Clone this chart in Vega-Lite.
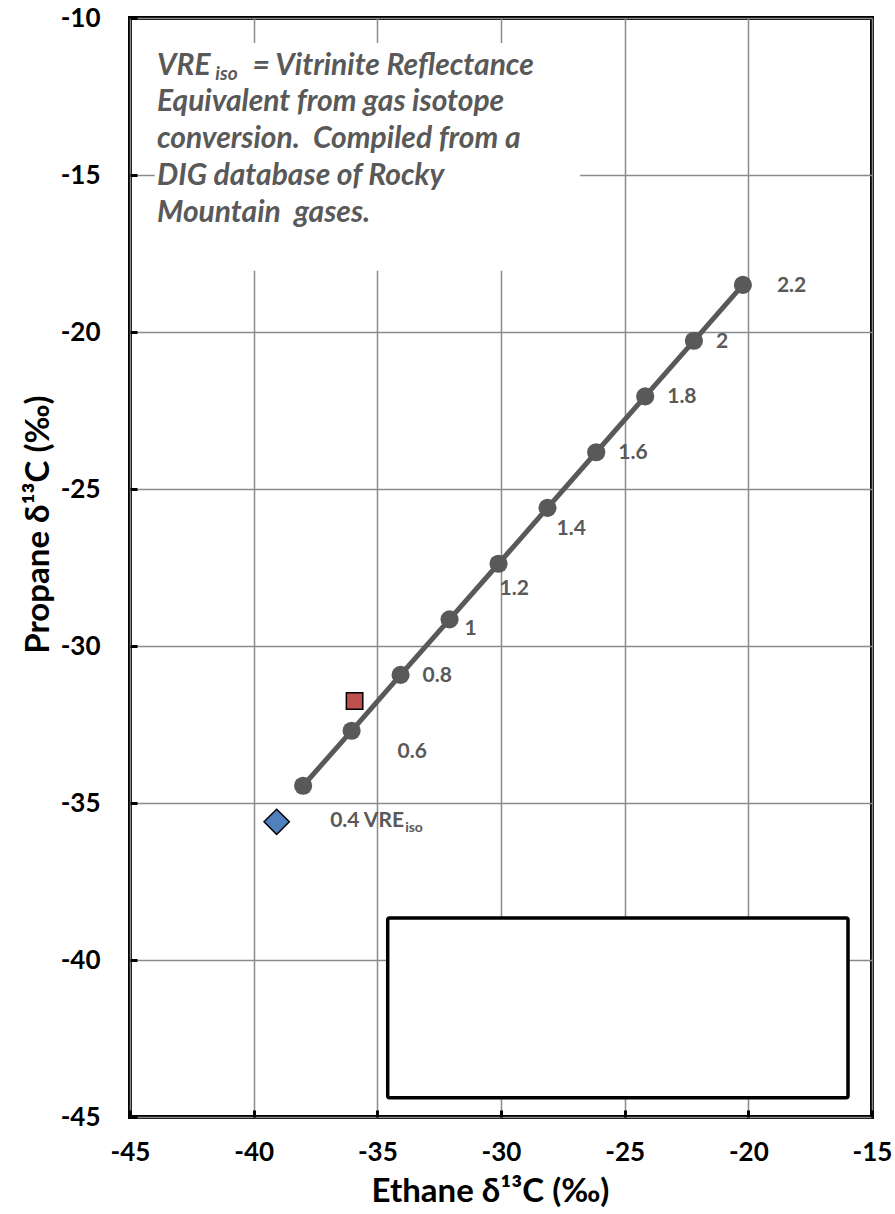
{
  "$schema": "https://vega.github.io/schema/vega-lite/v6.json",
  "width": 742,
  "height": 1099,
  "autosize": {"type": "none"},
  "padding": {"left": 130, "top": 18, "right": 23, "bottom": 97},
  "background": "white",
  "datasets": {
    "line": [
      {"ethane": -38.0, "propane": -34.45, "vre": 0.4, "label": "0.4"},
      {"ethane": -36.04, "propane": -32.7, "vre": 0.6, "label": "0.6"},
      {"ethane": -34.06, "propane": -30.92, "vre": 0.8, "label": "0.8"},
      {"ethane": -32.08, "propane": -29.15, "vre": 1.0, "label": "1"},
      {"ethane": -30.1, "propane": -27.38, "vre": 1.2, "label": "1.2"},
      {"ethane": -28.12, "propane": -25.6, "vre": 1.4, "label": "1.4"},
      {"ethane": -26.15, "propane": -23.83, "vre": 1.6, "label": "1.6"},
      {"ethane": -24.17, "propane": -22.05, "vre": 1.8, "label": "1.8"},
      {"ethane": -22.2, "propane": -20.28, "vre": 2.0, "label": "2"},
      {"ethane": -20.22, "propane": -18.5, "vre": 2.2, "label": "2.2"}
    ],
    "samples": [
      {"ethane": -35.92, "propane": -31.75, "sample": "A"},
      {"ethane": -39.07, "propane": -35.6, "sample": "B"}
    ],
    "notes": [
      {"ethane": -43.91, "propane": -11.815, "line": "VRE", "part": "big"},
      {"ethane": -41.55, "propane": -11.98, "line": "iso", "part": "sub"},
      {"ethane": -40.05, "propane": -11.815, "line": "= Vitrinite Reflectance", "part": "big"},
      {"ethane": -43.91, "propane": -12.96, "line": "Equivalent from gas isotope", "part": "big"},
      {"ethane": -43.91, "propane": -14.14, "line": "conversion.\u00a0 Compiled from a", "part": "big"},
      {"ethane": -43.91, "propane": -15.32, "line": "DIG database of Rocky", "part": "big"},
      {"ethane": -43.91, "propane": -16.5, "line": "Mountain\u00a0 gases.", "part": "big"}
    ],
    "boxes": [
      {"x1": -44.0, "x2": -26.8, "y1": -10.8, "y2": -18.05, "box": "note"},
      {"x1": -34.58, "x2": -15.97, "y1": -38.66, "y2": -44.39, "box": "empty"}
    ]
  },
  "layer": [
    {
      "data": {"name": "boxes"},
      "transform": [{"filter": "datum.box == 'note'"}],
      "mark": {"type": "rect", "fill": "white", "strokeWidth": 0},
      "encoding": {
        "x": {"field": "x1", "type": "quantitative", "scale": {"domain": [-45, -15], "nice": false, "zero": false},
              "axis": {"title": "Ethane δ¹³C (‰)", "values": [-45, -40, -35, -30, -25, -20, -15], "labelExpr": "toString(datum.value)", "labelPadding": 29, "titlePadding": 10, "titleX": 360, "labelFlush": false}},
        "x2": {"field": "x2"},
        "y": {"field": "y1", "type": "quantitative", "scale": {"domain": [-45, -10], "nice": false, "zero": false},
              "axis": {"title": "Propane δ¹³C (‰)", "values": [-45, -40, -35, -30, -25, -20, -15, -10], "labelExpr": "toString(datum.value)", "labelPadding": 37, "titlePadding": 5, "titleY": 506, "labelFlush": false}},
        "y2": {"field": "y2"}
      }
    },
    {
      "data": {"name": "line"},
      "mark": {"type": "line", "color": "#595959", "strokeWidth": 5},
      "encoding": {"x": {"field": "ethane", "type": "quantitative"}, "y": {"field": "propane", "type": "quantitative"}}
    },
    {
      "data": {"name": "line"},
      "mark": {"type": "point", "shape": "circle", "filled": true, "color": "#595959", "size": 330, "opacity": 1},
      "encoding": {"x": {"field": "ethane", "type": "quantitative"}, "y": {"field": "propane", "type": "quantitative"}}
    },
    {
      "data": {"name": "line"},
      "transform": [{"filter": "datum.vre == 0.8 || datum.vre == 1.6 || datum.vre == 1.8 || datum.vre == 2"}],
      "mark": {"type": "text", "align": "left", "baseline": "middle", "dx": 22, "dy": 1, "font": "Lato", "fontWeight": "bold", "fontSize": 21, "color": "#595959"},
      "encoding": {"x": {"field": "ethane", "type": "quantitative"}, "y": {"field": "propane", "type": "quantitative"}, "text": {"field": "label"}}
    },
    {
      "data": {"name": "line"},
      "transform": [{"filter": "datum.vre == 2.2"}],
      "mark": {"type": "text", "align": "left", "baseline": "middle", "dx": 34, "dy": 1, "font": "Lato", "fontWeight": "bold", "fontSize": 21, "color": "#595959"},
      "encoding": {"x": {"field": "ethane", "type": "quantitative"}, "y": {"field": "propane", "type": "quantitative"}, "text": {"field": "label"}}
    },
    {
      "data": {"name": "line"},
      "transform": [{"filter": "datum.vre == 1.4"}],
      "mark": {"type": "text", "align": "left", "baseline": "middle", "dx": 9, "dy": 21, "font": "Lato", "fontWeight": "bold", "fontSize": 21, "color": "#595959"},
      "encoding": {"x": {"field": "ethane", "type": "quantitative"}, "y": {"field": "propane", "type": "quantitative"}, "text": {"field": "label"}}
    },
    {
      "data": {"name": "line"},
      "transform": [{"filter": "datum.vre == 1.2"}],
      "mark": {"type": "text", "align": "left", "baseline": "middle", "dx": 1, "dy": 25, "font": "Lato", "fontWeight": "bold", "fontSize": 21, "color": "#595959"},
      "encoding": {"x": {"field": "ethane", "type": "quantitative"}, "y": {"field": "propane", "type": "quantitative"}, "text": {"field": "label"}}
    },
    {
      "data": {"name": "line"},
      "transform": [{"filter": "datum.vre == 1"}],
      "mark": {"type": "text", "align": "left", "baseline": "middle", "dx": 15, "dy": 10, "font": "Lato", "fontWeight": "bold", "fontSize": 21, "color": "#595959"},
      "encoding": {"x": {"field": "ethane", "type": "quantitative"}, "y": {"field": "propane", "type": "quantitative"}, "text": {"field": "label"}}
    },
    {
      "data": {"name": "line"},
      "transform": [{"filter": "datum.vre == 0.6"}],
      "mark": {"type": "text", "align": "left", "baseline": "middle", "dx": 46, "dy": 21, "font": "Lato", "fontWeight": "bold", "fontSize": 21, "color": "#595959"},
      "encoding": {"x": {"field": "ethane", "type": "quantitative"}, "y": {"field": "propane", "type": "quantitative"}, "text": {"field": "label"}}
    },
    {
      "data": {"name": "line"},
      "transform": [{"filter": "datum.vre == 0.4"}],
      "mark": {"type": "text", "align": "left", "baseline": "middle", "dx": 27, "dy": 35, "font": "Lato", "fontWeight": "bold", "fontSize": 21, "color": "#595959"},
      "encoding": {"x": {"field": "ethane", "type": "quantitative"}, "y": {"field": "propane", "type": "quantitative"}, "text": {"value": "0.4 VRE"}}
    },
    {
      "data": {"name": "line"},
      "transform": [{"filter": "datum.vre == 0.4"}],
      "mark": {"type": "text", "align": "left", "baseline": "middle", "dx": 102, "dy": 42, "font": "Lato", "fontWeight": "bold", "fontSize": 14, "color": "#595959"},
      "encoding": {"x": {"field": "ethane", "type": "quantitative"}, "y": {"field": "propane", "type": "quantitative"}, "text": {"value": "iso"}}
    },
    {
      "data": {"name": "samples"},
      "mark": {"type": "point", "filled": true, "stroke": "black", "strokeWidth": 1.5, "opacity": 1},
      "encoding": {
        "x": {"field": "ethane", "type": "quantitative"},
        "y": {"field": "propane", "type": "quantitative"},
        "shape": {"field": "sample", "type": "nominal", "scale": {"domain": ["A", "B"], "range": ["square", "diamond"]}, "legend": null},
        "fill": {"field": "sample", "type": "nominal", "scale": {"domain": ["A", "B"], "range": ["#C0504D", "#4F81BD"]}, "legend": null},
        "size": {"field": "sample", "type": "nominal", "scale": {"domain": ["A", "B"], "range": [270, 640]}, "legend": null}
      }
    },
    {
      "data": {"name": "notes"},
      "transform": [{"filter": "datum.part == 'big'"}],
      "mark": {"type": "text", "align": "left", "baseline": "alphabetic", "font": "Lato", "fontStyle": "italic", "fontWeight": "bold", "fontSize": 30, "color": "#595959"},
      "encoding": {"x": {"field": "ethane", "type": "quantitative"}, "y": {"field": "propane", "type": "quantitative"}, "text": {"field": "line"}}
    },
    {
      "data": {"name": "notes"},
      "transform": [{"filter": "datum.part == 'sub'"}],
      "mark": {"type": "text", "align": "left", "baseline": "alphabetic", "font": "Lato", "fontStyle": "italic", "fontWeight": "bold", "fontSize": 19, "color": "#595959"},
      "encoding": {"x": {"field": "ethane", "type": "quantitative"}, "y": {"field": "propane", "type": "quantitative"}, "text": {"field": "line"}}
    },
    {
      "data": {"name": "boxes"},
      "transform": [{"filter": "datum.box == 'empty'"}],
      "mark": {"type": "rect", "fill": "white", "stroke": "black", "strokeWidth": 3.5, "cornerRadius": 2},
      "encoding": {
        "x": {"field": "x1", "type": "quantitative"},
        "x2": {"field": "x2"},
        "y": {"field": "y1", "type": "quantitative"},
        "y2": {"field": "y2"}
      }
    }
  ],
  "config": {
    "view": {"stroke": "black", "strokeWidth": 4},
    "axis": {
      "domain": false,
      "grid": true,
      "gridColor": "#8a8a8a",
      "gridWidth": 1.5,
      "gridOpacity": 1,
      "ticks": true,
      "tickColor": "black",
      "tickWidth": 3,
      "tickSize": -7,
      "labelFont": "Lato",
      "labelFontWeight": "bold",
      "labelFontSize": 26,
      "labelColor": "black",
      "titleFont": "Lato",
      "titleFontWeight": "bold",
      "titleFontSize": 33,
      "titleColor": "black"
    }
  }
}
